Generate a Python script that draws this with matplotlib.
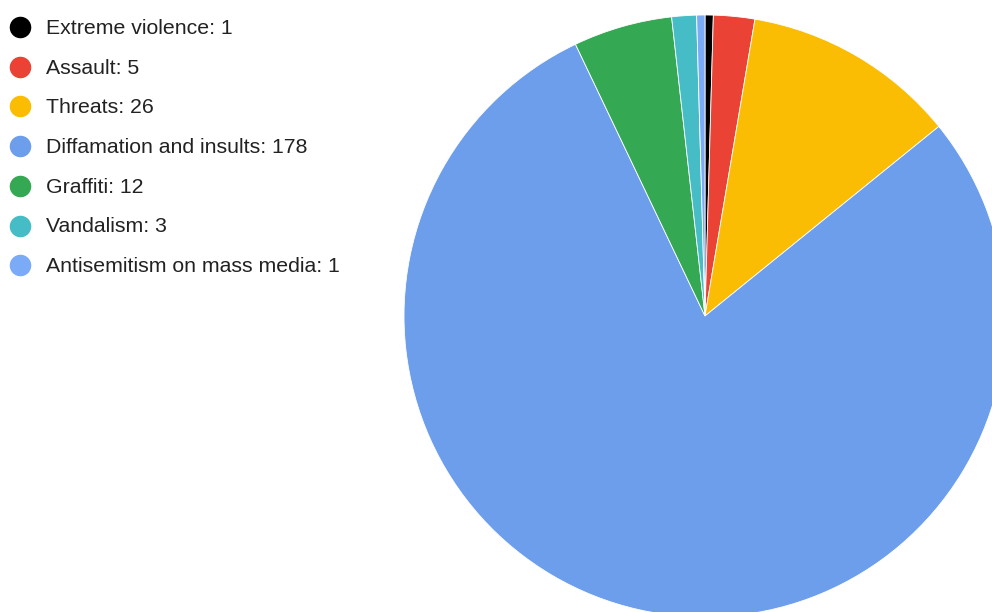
import matplotlib
matplotlib.use('Agg')
import matplotlib.pyplot as plt
from matplotlib.lines import Line2D

labels = ['Extreme violence', 'Assault', 'Threats', 'Diffamation and insults',
          'Graffiti', 'Vandalism', 'Antisemitism on mass media']
values = [1, 5, 26, 178, 12, 3, 1]
colors = ['#000000', '#EA4335', '#FBBC04', '#6D9EEB', '#34A853', '#46BDC6', '#7BAAF7']

W, H = 992, 612
fig = plt.figure(figsize=(W / 100, H / 100), dpi=100)
fig.patch.set_facecolor('white')

# pie: center (705, 316) px from top-left, radius 301 px
cx, cy, r = 705, 316, 301
ax = fig.add_axes([(cx - r) / W, (H - cy - r) / H, 2 * r / W, 2 * r / H])
ax.pie(values, colors=colors, startangle=90, counterclock=False, radius=1,
       wedgeprops=dict(edgecolor='white', linewidth=0.6))
ax.set_xlim(-1, 1)
ax.set_ylim(-1, 1)
ax.set_aspect('equal')
ax.axis('off')

# legend, drawn by hand
y0, dy = 27, 39.7
for i, (lab, val, col) in enumerate(zip(labels, values, colors)):
    y = 1 - (y0 + i * dy) / H
    fig.add_artist(Line2D([20 / W], [y], marker='o', markersize=14.5,
                          color=col, transform=fig.transFigure, linestyle='none'))
    fig.text(46 / W, y - 1.5 / H, f'{lab}: {val}', fontsize=15.3, color='#222222',
             family='Liberation Sans', va='center', ha='left')

fig.savefig('out.png', dpi=100, facecolor='white')
